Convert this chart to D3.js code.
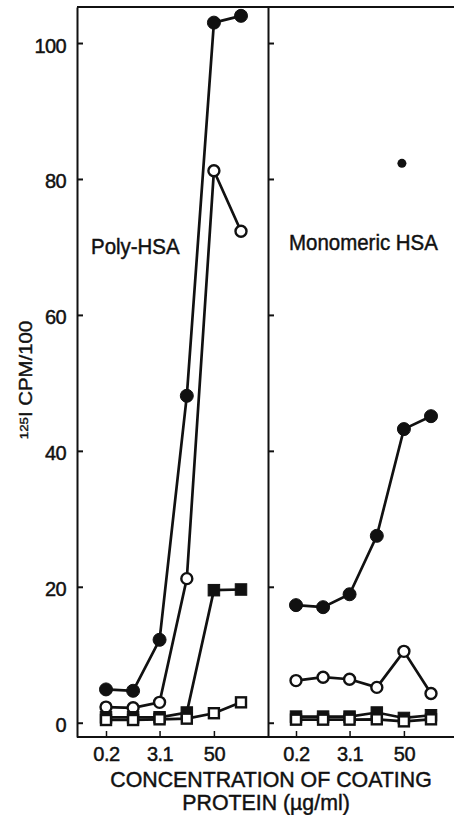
<!DOCTYPE html>
<html>
<head>
<meta charset="utf-8">
<script src="https://cdn.jsdelivr.net/npm/d3@7"></script>
<style>
body { margin: 0; background: #fff; }
svg { display: block; }
text { font-family: "Liberation Sans", Arial, Helvetica, sans-serif; fill: #111; stroke: #111; stroke-width: 0.45; }
</style>
</head>
<body>
<div id="chart"></div>
<script>
// coating concentrations (4-fold steps), ug/ml
var conc = [0.2, 0.8, 3.1, 12.5, 50, 200];
var xTicks = [0.2, 3.1, 50];
var xTickLabels = ["0.2", "3.1", "50"];
var yTicks = [0, 20, 40, 60, 80, 100];

// Poly-HSA panel
var polyFilledCircle = [4.9, 4.7, 12.2, 48.1, 103, 104];
var polyOpenCircle = [2.3, 2.2, 3.0, 21.2, 81.2, 72.3];
var polyFilledSquare = [0.8, 0.8, 0.8, 1.5, 19.5, 19.6];
var polyOpenSquare = [0.4, 0.4, 0.5, 0.6, 1.4, 3.0];

// Monomeric HSA panel
var monoFilledCircle = [17.3, 17.0, 18.9, 27.5, 43.2, 45.1];
var monoOpenCircle = [6.2, 6.7, 6.4, 5.2, 10.5, 4.3];
var monoFilledSquare = [0.9, 0.9, 0.9, 1.5, 0.7, 1.1];
var monoOpenSquare = [0.45, 0.45, 0.45, 0.5, 0.2, 0.5];
var monoStray = [{ x: 50, y: 82.3 }]; // lone dot in the print

var panelNames = ["Poly-HSA", "Monomeric HSA"];

(function() {
	"use strict";
	var W = 454, H = 815,
		top = 7, bottom = 737,
		leftX = 77, midX = 268, rightX = W,
		ink = "#111";

	var svg = d3.select("#chart").append("svg")
		.attr("width", W)
		.attr("height", H);

	var y = d3.scaleLinear().domain([-2.1, 105.3]).range([bottom, top]);
	var xL = d3.scaleLog().domain([0.2, 200]).range([106, 241]);
	var xR = d3.scaleLog().domain([0.2, 200]).range([296, 431]);

	function hText(g, str, x, yy, anchor, size, sx) {
		return g.append("text")
			.attr("transform", "translate(" + x + "," + yy + ") scale(" + sx + ",1)")
			.attr("text-anchor", anchor)
			.attr("font-size", size)
			.text(str);
	}

	// frame
	var frame = svg.append("g")
		.attr("stroke", ink)
		.attr("stroke-width", 2)
		.attr("fill", "none");
	frame.append("line").attr("x1", leftX).attr("x2", rightX).attr("y1", top).attr("y2", top);
	frame.append("line").attr("x1", leftX).attr("x2", rightX).attr("y1", bottom).attr("y2", bottom);

	// left y axis, ticks pointing inward
	var yAxis = svg.append("g")
		.attr("transform", "translate(" + leftX + ",0)")
		.call(d3.axisLeft(y).tickValues(yTicks).tickSize(-6).tickSizeOuter(0).tickPadding(11));
	yAxis.selectAll("path, line").attr("stroke", ink).attr("stroke-width", 2);
	yAxis.selectAll("text")
		.attr("font-size", 20)
		.attr("font-family", "Liberation Sans, Arial, sans-serif")
		.attr("letter-spacing", -0.6)
		.attr("dy", "0.45em")
		.attr("fill", ink);

	// divider with inward ticks for the right panel
	var yAxis2 = svg.append("g")
		.attr("transform", "translate(" + midX + ",0)")
		.call(d3.axisRight(y).tickValues(yTicks).tickSize(6).tickSizeOuter(0).tickFormat(""));
	yAxis2.selectAll("path, line").attr("stroke", ink).attr("stroke-width", 2);

	// bottom ticks + labels, per panel
	[xL, xR].forEach(function(xs) {
		var ax = svg.append("g")
			.attr("transform", "translate(0," + bottom + ")")
			.call(d3.axisBottom(xs).tickValues(xTicks).tickSize(-6).tickSizeOuter(0).tickPadding(10)
				.tickFormat(function(d, i) { return xTickLabels[i]; }));
		ax.select(".domain").remove();
		ax.selectAll("line").attr("stroke", ink).attr("stroke-width", 1.5);
		ax.selectAll("text")
			.attr("font-size", 20)
			.attr("font-family", "Liberation Sans, Arial, sans-serif")
			.attr("letter-spacing", -0.5)
			.attr("fill", ink);
	});

	// axis titles
	hText(svg, "CONCENTRATION OF COATING", 271, 787, "middle", 22, 0.97);
	hText(svg, "PROTEIN (\u00b5g/ml)", 266, 810, "middle", 22, 0.97);

	var yl = svg.append("text")
		.attr("transform", "translate(32,380) rotate(-90) scale(1.02,0.88)")
		.attr("text-anchor", "middle")
		.attr("font-size", 20);
	yl.append("tspan").attr("font-size", 13).attr("dy", -5).text("125");
	yl.append("tspan").attr("dy", 5).text("I CPM/100");

	// panel names
	hText(svg, panelNames[0], 91, 254, "start", 22, 0.93);
	hText(svg, panelNames[1], 289, 250, "start", 22, 0.93);

	// series
	var panels = [
		{ x: xL, series: [
			{ v: polyFilledCircle, shape: "circle", filled: true },
			{ v: polyOpenCircle, shape: "circle", filled: false },
			{ v: polyFilledSquare, shape: "square", filled: true },
			{ v: polyOpenSquare, shape: "square", filled: false }
		] },
		{ x: xR, series: [
			{ v: monoFilledCircle, shape: "circle", filled: true },
			{ v: monoOpenCircle, shape: "circle", filled: false },
			{ v: monoFilledSquare, shape: "square", filled: true },
			{ v: monoOpenSquare, shape: "square", filled: false }
		] }
	];

	panels.forEach(function(p) {
		var line = d3.line()
			.x(function(d, i) { return p.x(conc[i]); })
			.y(function(d) { return y(d); });
		var g = svg.append("g");
		p.series.forEach(function(s) {
			g.append("path")
				.datum(s.v)
				.attr("d", line)
				.attr("fill", "none")
				.attr("stroke", ink)
				.attr("stroke-width", 2.7);
		});
		p.series.forEach(function(s) {
			var pts = g.selectAll(null).data(s.v);
			if (s.shape === "circle") {
				pts.enter().append("circle")
					.attr("cx", function(d, i) { return p.x(conc[i]); })
					.attr("cy", function(d) { return y(d); })
					.attr("r", s.filled ? 6.5 : 5.5)
					.attr("fill", s.filled ? ink : "#fff")
					.attr("stroke", ink)
					.attr("stroke-width", s.filled ? 1 : 2.4);
			} else {
				var side = s.filled ? 11.5 : 10;
				pts.enter().append("rect")
					.attr("x", function(d, i) { return p.x(conc[i]) - side / 2; })
					.attr("y", function(d) { return y(d) - side / 2; })
					.attr("width", side)
					.attr("height", side)
					.attr("fill", s.filled ? ink : "#fff")
					.attr("stroke", ink)
					.attr("stroke-width", s.filled ? 1 : 2.4);
			}
		});
	});

	svg.selectAll("circle.stray").data(monoStray).enter().append("circle")
		.attr("class", "stray")
		.attr("cx", function(d) { return xR(d.x) - 2; })
		.attr("cy", function(d) { return y(d.y); })
		.attr("r", 4.5)
		.attr("fill", ink);
}());
</script>
</body>
</html>
